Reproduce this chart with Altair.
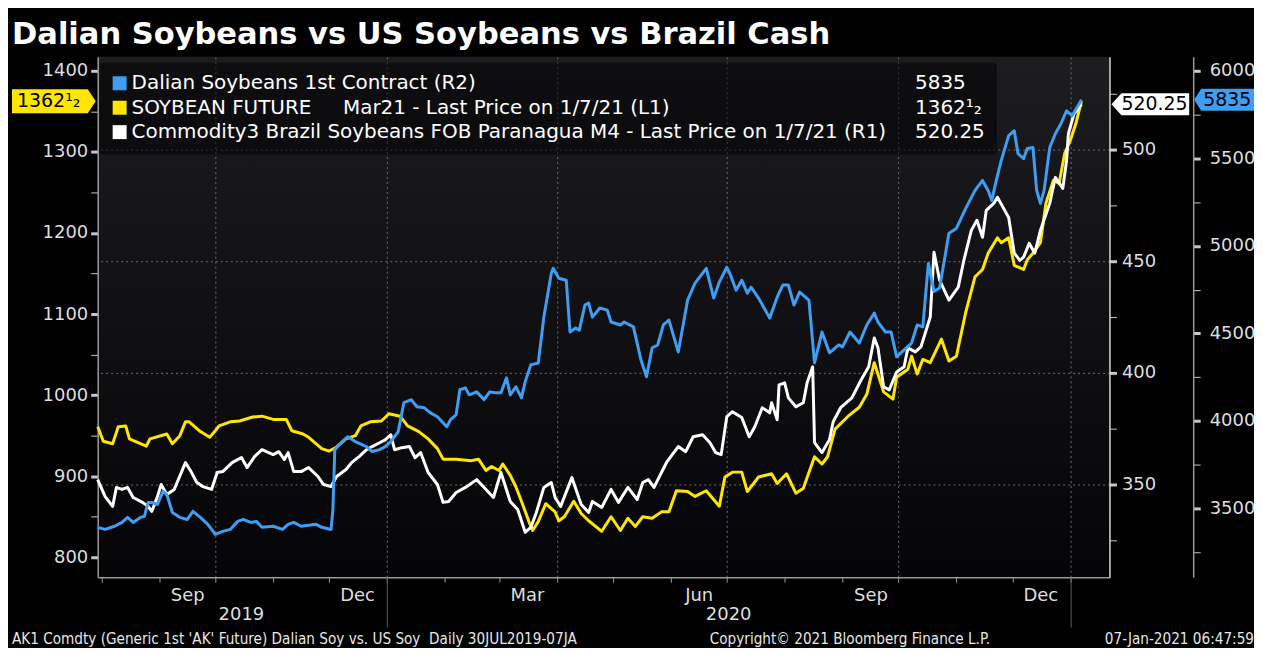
import altair as alt
import pandas as pd

# ---------------------------------------------------------------- text
TITLE = "Dalian Soybeans vs US Soybeans vs Brazil Cash"
LEGEND_NAMES = [
    "Dalian Soybeans 1st Contract (R2)",
    "SOYBEAN FUTURE\u00a0\u00a0\u00a0\u00a0\u00a0Mar21 - Last Price on 1/7/21 (L1)",
    "Commodity3 Brazil Soybeans FOB Paranagua M4 - Last Price on 1/7/21 (R1)",
]
LAST_LABELS = ["5835", "1362\u00b9\u2082", "520.25"]
SERIES_COLORS = ["#3d9ef3", "#ffe600", "#ffffff"]
FOOTER_LEFT = "AK1 Comdty (Generic 1st 'AK' Future) Dalian Soy vs. US Soy\u00a0\u00a0Daily 30JUL2019-07JA"
FOOTER_MID = "Copyright\u00a9 2021 Bloomberg Finance L.P."
FOOTER_RIGHT = "07-Jan-2021 06:47:59"
YEAR_LABELS = ["2019", "2020"]
YEAR_LABEL_DATES = ["2019-10-15", "2020-07-02"]

# ---------------------------------------------------------------- axis ticks
L1_TICKS = list(range(800, 1401, 50))
R1_TICKS = list(range(325, 526, 25))
R2_TICKS = list(range(3250, 6001, 250))
MONTH_TICKS = [(2019, m) for m in range(8, 13)] + [(2020, m) for m in range(1, 13)] + [(2021, 1)]
QUARTER_TICKS = [(2019, 10), (2020, 1), (2020, 4), (2020, 7), (2020, 10), (2021, 1)]
YEAR_TICKS = [(2020, 1), (2021, 1)]

# ---------------------------------------------------------------- SOYBEAN FUTURE (L1)
SOY_DATES = [
    "2019-07-30", "2019-08-02", "2019-08-07", "2019-08-10", "2019-08-14", "2019-08-16", "2019-08-20",
    "2019-08-25", "2019-08-27", "2019-09-05", "2019-09-08", "2019-09-12", "2019-09-15", "2019-09-17",
    "2019-09-23", "2019-09-28", "2019-10-01", "2019-10-03", "2019-10-09", "2019-10-14", "2019-10-21",
    "2019-10-26", "2019-11-01", "2019-11-08", "2019-11-11", "2019-11-17", "2019-11-20", "2019-11-27",
    "2019-12-01", "2019-12-05", "2019-12-10", "2019-12-15", "2019-12-18", "2019-12-23", "2019-12-29",
    "2020-01-02", "2020-01-08", "2020-01-12", "2020-01-18", "2020-01-23", "2020-01-28", "2020-01-31",
    "2020-02-07", "2020-02-15", "2020-02-19", "2020-02-23", "2020-02-26", "2020-03-01", "2020-03-03",
    "2020-03-07", "2020-03-10", "2020-03-13", "2020-03-17", "2020-03-19", "2020-03-22", "2020-03-26",
    "2020-03-31", "2020-04-02", "2020-04-05", "2020-04-10", "2020-04-14", "2020-04-18", "2020-04-25",
    "2020-04-30", "2020-05-05", "2020-05-09", "2020-05-13", "2020-05-17", "2020-05-22", "2020-05-27",
    "2020-05-31", "2020-06-04", "2020-06-10", "2020-06-14", "2020-06-20", "2020-06-27", "2020-06-30",
    "2020-07-04", "2020-07-09", "2020-07-12", "2020-07-18", "2020-07-25", "2020-07-28", "2020-08-02",
    "2020-08-07", "2020-08-11", "2020-08-17", "2020-08-21", "2020-08-24", "2020-08-28", "2020-09-04",
    "2020-09-10", "2020-09-14", "2020-09-18", "2020-09-23", "2020-09-28", "2020-09-30", "2020-10-06",
    "2020-10-08", "2020-10-11", "2020-10-14", "2020-10-18", "2020-10-24", "2020-10-28", "2020-11-01",
    "2020-11-06", "2020-11-11", "2020-11-15", "2020-11-18", "2020-11-23", "2020-11-25", "2020-11-29",
    "2020-12-02", "2020-12-07", "2020-12-09", "2020-12-12", "2020-12-16", "2020-12-19", "2020-12-23",
    "2020-12-26", "2020-12-29", "2021-01-01", "2021-01-04", "2021-01-07",
]
SOY_VALUES = [
    961, 943, 940, 961, 962, 946, 942,
    937, 946, 952, 940, 950, 967, 967,
    955, 948, 956, 962, 967, 968, 973,
    974, 970, 970, 956, 952, 948, 934,
    931, 936, 946, 950, 962, 967, 968,
    977, 974, 962, 955, 946, 934, 921,
    921, 919, 921, 907, 912, 907, 915,
    901, 887, 869, 844, 833, 844, 866,
    856, 845, 850, 869, 854, 845, 832,
    850, 833, 848, 838, 850, 848, 856,
    856, 882, 881, 875, 882, 863, 899,
    905, 905, 881, 899, 903, 891, 903,
    879, 885, 924, 915, 924, 958, 974,
    985, 1001, 1040, 1004, 995, 1022, 1032,
    1048, 1026, 1044, 1040, 1069, 1042, 1048,
    1102, 1146, 1155, 1175, 1194, 1188, 1194,
    1160, 1155, 1167, 1175, 1188, 1237, 1265,
    1261, 1298, 1314, 1335, 1362.5,
]

# ---------------------------------------------------------------- Brazil FOB Paranagua (R1)
BRAZIL_DATES = [
    "2019-07-30", "2019-08-03", "2019-08-07", "2019-08-09", "2019-08-12", "2019-08-15", "2019-08-18",
    "2019-08-23", "2019-08-26", "2019-08-28", "2019-08-31", "2019-09-02", "2019-09-05", "2019-09-09",
    "2019-09-15", "2019-09-18", "2019-09-21", "2019-09-24", "2019-09-29", "2019-10-02", "2019-10-05",
    "2019-10-10", "2019-10-15", "2019-10-18", "2019-10-22", "2019-10-26", "2019-11-01", "2019-11-04",
    "2019-11-07", "2019-11-09", "2019-11-12", "2019-11-16", "2019-11-20", "2019-11-25", "2019-11-28",
    "2019-12-02", "2019-12-05", "2019-12-10", "2019-12-13", "2019-12-17", "2019-12-21", "2019-12-24",
    "2019-12-28", "2019-12-31", "2020-01-03", "2020-01-05", "2020-01-09", "2020-01-13", "2020-01-16",
    "2020-01-19", "2020-01-23", "2020-01-28", "2020-01-31", "2020-02-03", "2020-02-07", "2020-02-12",
    "2020-02-18", "2020-02-22", "2020-02-27", "2020-03-02", "2020-03-07", "2020-03-11", "2020-03-15",
    "2020-03-18", "2020-03-21", "2020-03-25", "2020-03-29", "2020-03-31", "2020-04-03", "2020-04-09",
    "2020-04-14", "2020-04-18", "2020-04-20", "2020-04-25", "2020-04-30", "2020-05-04", "2020-05-09",
    "2020-05-14", "2020-05-17", "2020-05-20", "2020-05-23", "2020-05-27", "2020-05-30", "2020-06-05",
    "2020-06-09", "2020-06-13", "2020-06-18", "2020-06-22", "2020-06-25", "2020-06-28", "2020-07-01",
    "2020-07-04", "2020-07-09", "2020-07-13", "2020-07-16", "2020-07-20", "2020-07-24", "2020-07-25",
    "2020-07-28", "2020-07-29", "2020-08-01", "2020-08-03", "2020-08-07", "2020-08-11", "2020-08-13",
    "2020-08-16", "2020-08-17", "2020-08-21", "2020-08-25", "2020-08-27", "2020-08-31", "2020-09-06",
    "2020-09-11", "2020-09-15", "2020-09-18", "2020-09-20", "2020-09-23", "2020-09-26", "2020-09-30",
    "2020-10-04", "2020-10-06", "2020-10-10", "2020-10-13", "2020-10-18", "2020-10-20", "2020-10-23",
    "2020-10-28", "2020-11-02", "2020-11-05", "2020-11-09", "2020-11-12", "2020-11-15", "2020-11-17",
    "2020-11-21", "2020-11-23", "2020-11-26", "2020-11-29", "2020-12-02", "2020-12-05", "2020-12-07",
    "2020-12-10", "2020-12-13", "2020-12-16", "2020-12-21", "2020-12-24", "2020-12-28", "2020-12-30",
    "2020-12-31", "2021-01-03", "2021-01-07",
]
BRAZIL_VALUES = [
    352.2, 344.6, 340.2, 348.7, 347.8, 348.7, 344.2,
    342.0, 340.2, 338.0, 344.6, 350.0, 345.5, 347.8,
    359.8, 355.8, 351.0, 349.2, 347.8, 355.4, 355.8,
    359.8, 362.1, 357.6, 362.5, 365.6, 363.4, 364.7,
    361.2, 364.3, 355.8, 355.8, 357.6, 353.6, 350.0,
    349.1, 353.6, 356.7, 359.8, 362.5, 365.6, 367.0,
    368.7, 370.0, 372.3, 365.6, 366.5, 367.0, 362.0,
    364.3, 355.4, 350.0, 342.0, 342.4, 346.4, 348.7,
    352.2, 348.7, 344.2, 355.4, 342.4, 338.8, 328.6,
    330.8, 337.5, 348.7, 350.9, 344.2, 340.2, 353.1,
    341.1, 337.5, 342.4, 339.7, 347.8, 342.0, 348.7,
    343.3, 350.9, 352.2, 348.7, 355.4, 360.3, 367.0,
    364.7, 371.4, 372.3, 368.7, 364.3, 363.4, 380.4,
    382.6, 380.0, 371.4, 375.9, 384.4, 382.1, 386.6,
    379.0, 394.6, 395.5, 388.8, 384.8, 386.6, 395.5,
    402.7, 368.8, 364.3, 370.0, 378.1, 384.4, 388.8,
    396.9, 402.7, 415.6, 411.2, 393.8, 392.4, 400.4,
    402.7, 411.2, 409.4, 411.6, 425.0, 454.0, 441.5,
    432.6, 438.4, 450.4, 463.8, 468.3, 460.7, 472.8,
    475.9, 478.6, 474.1, 469.6, 453.6, 450.4, 451.8,
    458.0, 453.6, 463.8, 475.9, 487.5, 482.6, 495.0,
    507.1, 516.0, 520.25,
]

# ---------------------------------------------------------------- Dalian 1st contract (R2)
DALIAN_DATES = [
    "2019-07-30", "2019-08-03", "2019-08-08", "2019-08-12", "2019-08-15", "2019-08-18", "2019-08-22",
    "2019-08-24", "2019-08-26", "2019-08-28", "2019-08-31", "2019-09-03", "2019-09-05", "2019-09-08",
    "2019-09-12", "2019-09-16", "2019-09-19", "2019-09-23", "2019-09-27", "2019-10-01", "2019-10-05",
    "2019-10-09", "2019-10-13", "2019-10-16", "2019-10-20", "2019-10-23", "2019-10-26", "2019-11-01",
    "2019-11-06", "2019-11-09", "2019-11-12", "2019-11-16", "2019-11-24", "2019-11-27", "2019-12-02",
    "2019-12-03", "2019-12-04", "2019-12-08", "2019-12-11", "2019-12-15", "2019-12-21", "2019-12-24",
    "2019-12-28", "2019-12-31", "2020-01-03", "2020-01-07", "2020-01-10", "2020-01-14", "2020-01-17",
    "2020-01-21", "2020-01-24", "2020-01-28", "2020-02-02", "2020-02-04", "2020-02-07", "2020-02-09",
    "2020-02-12", "2020-02-14", "2020-02-18", "2020-02-22", "2020-02-25", "2020-02-28", "2020-03-02",
    "2020-03-05", "2020-03-07", "2020-03-10", "2020-03-13", "2020-03-15", "2020-03-18", "2020-03-22",
    "2020-03-25", "2020-03-29", "2020-03-30", "2020-04-02", "2020-04-06", "2020-04-08", "2020-04-11",
    "2020-04-13", "2020-04-16", "2020-04-18", "2020-04-20", "2020-04-24", "2020-04-28", "2020-04-30",
    "2020-05-05", "2020-05-07", "2020-05-12", "2020-05-16", "2020-05-19", "2020-05-22", "2020-05-25",
    "2020-05-28", "2020-05-31", "2020-06-05", "2020-06-10", "2020-06-14", "2020-06-20", "2020-06-24",
    "2020-06-27", "2020-07-01", "2020-07-03", "2020-07-06", "2020-07-09", "2020-07-12", "2020-07-14",
    "2020-07-18", "2020-07-21", "2020-07-24", "2020-07-28", "2020-07-31", "2020-08-03", "2020-08-06",
    "2020-08-09", "2020-08-14", "2020-08-17", "2020-08-21", "2020-08-25", "2020-08-30", "2020-09-01",
    "2020-09-05", "2020-09-10", "2020-09-14", "2020-09-18", "2020-09-20", "2020-09-24", "2020-09-27",
    "2020-09-30", "2020-10-04", "2020-10-08", "2020-10-11", "2020-10-14", "2020-10-17", "2020-10-20",
    "2020-10-23", "2020-10-28", "2020-11-01", "2020-11-06", "2020-11-11", "2020-11-15", "2020-11-18",
    "2020-11-20", "2020-11-22", "2020-11-25", "2020-11-29", "2020-12-02", "2020-12-04", "2020-12-07",
    "2020-12-09", "2020-12-12", "2020-12-14", "2020-12-16", "2020-12-18", "2020-12-21", "2020-12-24",
    "2020-12-27", "2020-12-30", "2021-01-02", "2021-01-07",
]
DALIAN_VALUES = [
    3392, 3380, 3398, 3420, 3449, 3420, 3449,
    3455, 3534, 3534, 3523, 3597, 3580, 3477,
    3449, 3437, 3483, 3449, 3409, 3352, 3369,
    3380, 3426, 3437, 3420, 3426, 3392, 3398,
    3380, 3409, 3420, 3398, 3409, 3392, 3380,
    3494, 3836, 3882, 3910, 3882, 3853, 3825,
    3836, 3853, 3882, 3939, 4104, 4121, 4081,
    4075, 4047, 4024, 3967, 4007, 4035, 4178,
    4189, 4149, 4166, 4121, 4166, 4161, 4161,
    4246, 4149, 4195, 4132, 4223, 4320, 4331,
    4593, 4844, 4872, 4815, 4804, 4508, 4531,
    4519, 4662, 4673, 4593, 4645, 4633, 4565,
    4548, 4565, 4537, 4349, 4252, 4417, 4434,
    4548, 4576, 4394, 4690, 4787, 4872, 4702,
    4793, 4878, 4833, 4747, 4804, 4730, 4764,
    4702, 4645, 4588, 4707, 4776, 4776, 4662,
    4736, 4690, 4331, 4508, 4389, 4434, 4423,
    4508, 4445, 4548, 4616, 4565, 4508, 4508,
    4366, 4406, 4445, 4548, 4537, 4900, 4740,
    4759, 5072, 5100, 5214, 5317, 5374, 5317,
    5260, 5357, 5487, 5630, 5658, 5527, 5499,
    5556, 5562, 5317, 5243, 5317, 5562, 5641,
    5698, 5772, 5744, 5835,
]

# ---------------------------------------------------------------- layout / style
W, H = 1015, 522
FONT = "DejaVu Sans"
LABEL_COLOR = "#dedede"


def dt(y, m, d=1):
    return alt.DateTime(year=y, month=m, date=d, utc=True)


xscale = alt.Scale(type="utc", domain=[dt(2019, 7, 30), dt(2021, 1, 22)])

month_axis = alt.Axis(
    orient="bottom",
    values=[dt(y, m) for y, m in MONTH_TICKS],
    labelExpr="indexof([2, 5, 8, 11], utcmonth(datum.value)) >= 0 ? utcFormat(datum.value, '%b') : ''",
    labelOffset=28, labelOverlap=False, labelFlush=False, labelBound=False,
    labelFont=FONT, labelFontSize=18, labelColor=LABEL_COLOR, labelPadding=4,
    tickSize=5, tickColor="#9a9a9a", domainColor="#9a9a9a", domainWidth=1.5,
    grid=False, title=None,
)
grid_axis = alt.Axis(
    orient="bottom",
    values=[dt(y, m) for y, m in QUARTER_TICKS], grid=True, gridColor="#6e6e6e",
    gridDash=[2, 3], gridWidth=1, labels=False, ticks=False, domain=False, title=None,
)
year_axis = alt.Axis(
    orient="bottom",
    values=[dt(y, m) for y, m in YEAR_TICKS], grid=False, labels=False, ticks=True,
    tickSize=50, tickColor="#5c5c5c", tickWidth=1, domain=False, title=None,
)


def y_axis(orient, values, major, offset=0, grid=False, domain_color="#9a9a9a", pad=3):
    kw = dict(
        orient=orient, values=values, format="d",
        labelExpr=f"datum.value % {major} === 0 ? datum.label : ''",
        tickWidth={"condition": {"test": f"datum.value % {major} === 0", "value": 3}, "value": 1},
        tickSize=7, tickColor="#c8c8c8", domainColor=domain_color, domainWidth=1.5,
        labelColor=LABEL_COLOR, labelFont=FONT, labelFontSize=18, labelPadding=pad,
        title=None, offset=offset, grid=grid,
    )
    if grid:
        kw.update(
            gridColor="#6e6e6e", gridDash=[2, 3], gridWidth=1,
            gridOpacity={"condition": {"test": f"datum.value % {major} === 0", "value": 1}, "value": 0},
        )
    return alt.Axis(**kw)


def series_group(dates, values, color, yscale, yaxis, xaxis, path, size, bx, tx, label):
    df = pd.DataFrame({"date": dates, "value": values})
    df["last"] = [i == len(df) - 1 for i in range(len(df))]
    base = alt.Chart(df).encode(
        x=alt.X("date:T", scale=xscale, axis=xaxis),
        y=alt.Y("value:Q", scale=yscale, axis=yaxis),
    )
    line = base.mark_line(color=color, strokeWidth=3, strokeJoin="round")
    last = base.transform_filter("datum.last")
    badge = last.mark_point(shape=path, size=size, filled=True, opacity=1, color=color,
                            strokeWidth=0).encode(x=alt.value(bx))
    btext = last.mark_text(font=FONT, fontSize=19, color="black", align="left",
                           baseline="middle").encode(x=alt.value(tx), text=alt.value(label))
    return alt.layer(line, badge, btext)


soy = series_group(
    SOY_DATES, SOY_VALUES, SERIES_COLORS[1],
    alt.Scale(domain=[775.4, 1417.2], nice=False, zero=False),
    y_axis("left", L1_TICKS, 100), month_axis,
    "M -1 -0.286 L 0.81 -0.286 L 1 0 L 0.81 0.286 L -1 0.286 Z", 7056, -44, -81, LAST_LABELS[1],
)
brazil = series_group(
    BRAZIL_DATES, BRAZIL_VALUES, SERIES_COLORS[2],
    alt.Scale(domain=[308.5, 541.5], nice=False, zero=False),
    y_axis("right", R1_TICKS, 50, grid=True, domain_color="#d8d8d8", pad=5), grid_axis,
    "M -1 0 L -0.744 -0.282 L 1 -0.282 L 1 0.282 L -0.744 0.282 Z", 6084, 1056, 1027, LAST_LABELS[2],
)
dalian = series_group(
    DALIAN_DATES, DALIAN_VALUES, SERIES_COLORS[0],
    alt.Scale(domain=[3107, 6080], nice=False, zero=False),
    y_axis("right", R2_TICKS, 500, offset=84, pad=9), year_axis,
    "M -1 0 L -0.767 -0.367 L 1 -0.367 L 1 0.367 L -0.767 0.367 Z", 3600, 1130, 1109, LAST_LABELS[0],
)

one = pd.DataFrame({"k": [0]})
legend_box = alt.Chart(one).mark_rect(color="black", opacity=0.5, cornerRadius=3).encode(
    x=alt.value(2), x2=alt.value(902), y=alt.value(6), y2=alt.value(98))

legend_df = pd.DataFrame({"name": LEGEND_NAMES, "last": LAST_LABELS, "color": SERIES_COLORS})
legend_layers = []
for i in range(len(LEGEND_NAMES)):
    ly = 26.5 + 24.5 * i
    row = alt.Chart(legend_df.iloc[[i]])
    legend_layers.append(row.mark_square(size=196, opacity=1, color=SERIES_COLORS[i]).encode(
        x=alt.value(22), y=alt.value(ly)))
    legend_layers.append(row.mark_text(font=FONT, fontSize=20, color="white", align="left",
                                       baseline="middle").encode(text="name:N", x=alt.value(34), y=alt.value(ly)))
    legend_layers.append(row.mark_text(font=FONT, fontSize=20, color="white", align="left",
                                       baseline="middle").encode(text="last:N", x=alt.value(820), y=alt.value(ly)))

title = alt.Chart(pd.DataFrame({"t": [TITLE]})).mark_text(
    font=FONT, fontSize=30.6, fontWeight="bold", color="white", align="left", baseline="alphabetic"
).encode(text="t:N", x=alt.value(-86), y=alt.value(-13))

foot_df = pd.DataFrame({"t": [FOOTER_LEFT, FOOTER_MID, FOOTER_RIGHT]})
footer_font = "DejaVu Sans Condensed, DejaVu Sans"
footers = [
    alt.Chart(foot_df.iloc[[0]]).mark_text(font=footer_font, fontSize=15.2, color="#e6e6e6", align="left",
                                           baseline="middle").encode(text="t:N", x=alt.value(-86), y=alt.value(584)),
    alt.Chart(foot_df.iloc[[1]]).mark_text(font=footer_font, fontSize=15.2, color="#e6e6e6", align="left",
                                           baseline="middle").encode(text="t:N", x=alt.value(614), y=alt.value(584)),
    alt.Chart(foot_df.iloc[[2]]).mark_text(font=footer_font, fontSize=15.2, color="#e6e6e6", align="right",
                                           baseline="middle").encode(text="t:N", x=alt.value(1160), y=alt.value(584)),
]

years = alt.Chart(pd.DataFrame({"date": YEAR_LABEL_DATES, "label": YEAR_LABELS})).mark_text(
    font=FONT, fontSize=18, color=LABEL_COLOR, align="center", baseline="middle"
).encode(x=alt.X("date:T", scale=xscale, axis=None), y=alt.value(560), text="label:N")

chart = alt.layer(
    legend_box, soy, brazil, dalian, *legend_layers, title, *footers, years
).resolve_scale(y="independent").resolve_axis(x="independent").properties(
    width=W, height=H,
    padding={"left": 90, "top": 48, "right": 145, "bottom": 70},
    autosize=alt.AutoSizeParams(type="none"),
    background="black",
).configure_view(
    strokeWidth=0,
    fill={"expr": "{gradient: 'linear', x1: 0, y1: 0, x2: 0, y2: 1, stops: [{offset: 0, color: '#1c1c21'}, {offset: 1, color: '#050507'}]}"},
)

chart.save("out.html", embed_options={"renderer": "svg", "actions": False})
